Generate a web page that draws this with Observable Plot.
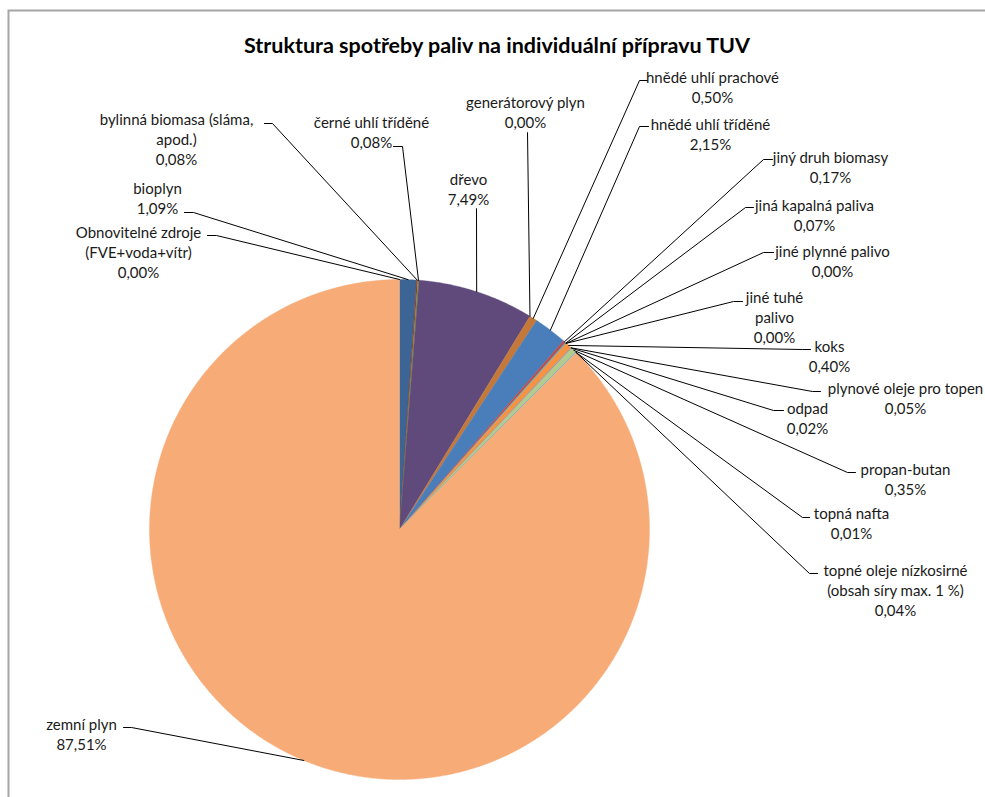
<!DOCTYPE html>
<html>
<head>
<meta charset="utf-8">
<script src="https://cdn.jsdelivr.net/npm/d3@7"></script>
<script src="https://cdn.jsdelivr.net/npm/@observablehq/plot@0.6"></script>
<style>
  html, body { margin: 0; padding: 0; background: white; overflow: hidden; }
  svg { overflow: hidden; }
</style>
</head>
<body>
<div id="chart"></div>
<script>
// ---------- DATA ----------
const title = "Struktura spotřeby paliv na individuální přípravu TUV";
const categories = [
  "Obnovitelné zdroje (FVE+voda+vítr)", "bioplyn", "bylinná biomasa (sláma, apod.)",
  "černé uhlí tříděné", "dřevo", "generátorový plyn", "hnědé uhlí prachové",
  "hnědé uhlí tříděné", "jiný druh biomasy", "jiná kapalná paliva", "jiné plynné palivo",
  "jiné tuhé palivo", "koks", "plynové oleje pro topení", "odpad", "propan-butan",
  "topná nafta", "topné oleje nízkosirné (obsah síry max. 1 %)", "zemní plyn"
];
const shares = [0.00, 1.09, 0.08, 0.08, 7.49, 0.00, 0.50, 2.15, 0.17, 0.07, 0.00, 0.00,
                0.40, 0.05, 0.02, 0.35, 0.01, 0.04, 87.51];
// label text as displayed (wrapped / clipped as in the picture)
const labelTexts = [
  "Obnovitelné zdroje\n(FVE+voda+vítr)", "bioplyn", "bylinná biomasa (sláma,\napod.)",
  "černé uhlí tříděné", "dřevo", "generátorový plyn", "hnědé uhlí prachové",
  "hnědé uhlí tříděné", "jiný druh biomasy", "jiná kapalná paliva", "jiné plynné palivo",
  "jiné tuhé\npalivo", "koks", "plynové oleje pro topen", "odpad", "propan-butan",
  "topná nafta", "topné oleje nízkosirné\n(obsah síry max. 1 %)", "zemní plyn"
];

// ---------- STYLE / LAYOUT ----------
const sliceColors = [
  "#4F81BD", "#3C6494", "#943634", "#76923C", "#604A7B", "#31859C", "#C4783A",
  "#4A7EBB", "#BE4B48", "#4BACC6", "#7D60A0", "#46AAC5", "#F69240",
  "#7E9FCC", "#CD7B79", "#B3CB8C", "#A18BBE", "#7CC0D4", "#F7AC78"
];
const pie = {cx: 399, cy: 529, r: 250};
const labelX = [138, 157, 176, 371, 468, 525, 712, 710, 830, 814, 832, 774, 829, 905, 807, 905, 851, 895, 81];
const labelY = [251, 197, 138, 131.5, 188, 111, 86, 133.5, 166.5, 214, 260, 316.5, 355.5, 397, 417, 478, 522, 589, 733];
const elbowX = [216, 193, 272, 402, 476, 527, 639, 639, 763, 745, 763, 733, 802, 812, 773, 847, 802, 809, 131];
const elbowY = [235, 212, 123, 146, 208, 132, 80, 126, 159, 207, 252, 301, 349, 391, 410, 472, 517, 573, 727];
const tickX  = [207, 184, 264, 393, 476, 527, 647, 648, 772, 753, 773, 742, 810, 820, 783, 855, 809, 817, 123];
const fontFamily = "Lato, sans-serif";

// ---------- BUILD ----------
const total = d3.sum(shares);
let acc = 0;
const slices = categories.map((name, i) => {
  const a0 = acc / total * 2 * Math.PI;
  acc += shares[i];
  const a1 = acc / total * 2 * Math.PI;
  return {name, i, v: shares[i], a0, a1};
});

const slicePts = slices.filter(s => s.v > 0).flatMap(s => {
  const color = sliceColors[s.i];
  const n = Math.max(2, Math.ceil((s.a1 - s.a0) / 0.005));
  const pts = [{name: s.name, x: pie.cx, y: pie.cy, color}];
  for (let k = 0; k <= n; k++) {
    const t = s.a0 + (s.a1 - s.a0) * k / n;
    pts.push({name: s.name, x: pie.cx + pie.r * Math.sin(t), y: pie.cy - pie.r * Math.cos(t), color});
  }
  pts.push({name: s.name, x: pie.cx, y: pie.cy, color});
  return pts;
});

const leaderPts = slices.flatMap(s => {
  const m = (s.a0 + s.a1) / 2;
  return [
    {name: s.name, x: pie.cx + pie.r * Math.sin(m), y: pie.cy - pie.r * Math.cos(m)},
    {name: s.name, x: elbowX[s.i], y: elbowY[s.i]},
    {name: s.name, x: tickX[s.i], y: elbowY[s.i]}
  ];
});

const fmt = v => v.toFixed(2).replace(".", ",") + "%";
const labels = slices.map(s => ({
  x: labelX[s.i], y: labelY[s.i], text: labelTexts[s.i] + "\n" + fmt(s.v)
}));

const chart = Plot.plot({
  width: 985,
  height: 797,
  marginLeft: 8, marginTop: 10, marginRight: 0, marginBottom: 0,
  x: {domain: [8, 985], axis: null},
  y: {domain: [10, 797], reverse: true, axis: null},
  color: {type: "identity"},
  style: {fontFamily, background: "white", overflow: "hidden"},
  marks: [
    Plot.frame({stroke: "#A6A6A6", strokeWidth: 2, insetRight: -20, insetBottom: -20}),
    Plot.line(slicePts, {x: "x", y: "y", z: "name", fill: "color", stroke: "color", strokeWidth: 0.4, curve: "linear-closed"}),
    Plot.line(leaderPts, {x: "x", y: "y", z: "name", stroke: "black", strokeWidth: 1}),
    Plot.text(labels, {x: "x", y: "y", text: "text", fontSize: 15, lineHeight: 1.33,
      textAnchor: "middle", lineAnchor: "middle", fill: "#1a1a1a"}),
    Plot.text([title], {text: d => d, frameAnchor: "top", dy: 36, fontSize: 21.5,
      fontWeight: "bold", lineAnchor: "middle", fill: "black"})
  ]
});
document.getElementById("chart").appendChild(chart);
</script>
</body>
</html>
